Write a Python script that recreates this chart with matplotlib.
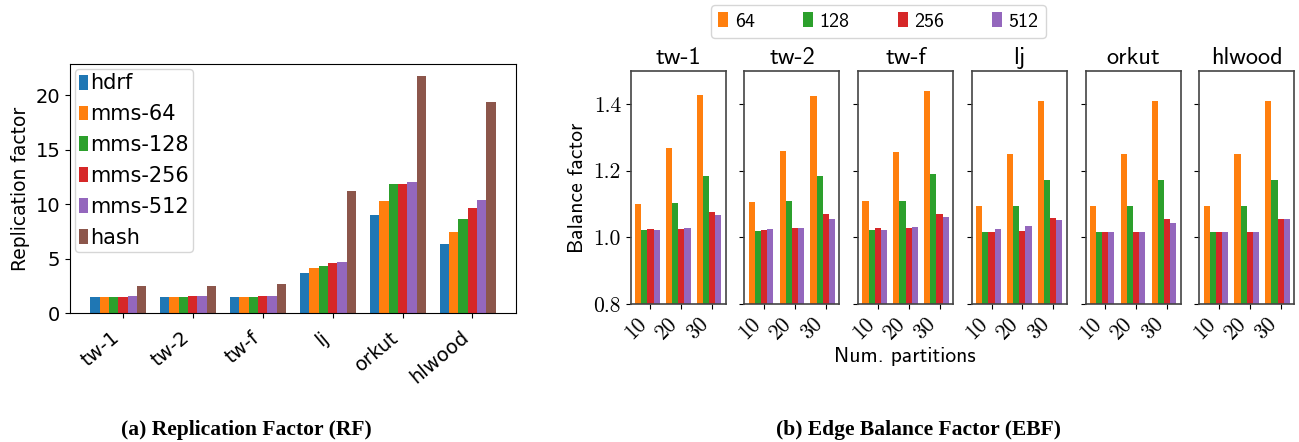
import matplotlib
matplotlib.use("Agg")
import matplotlib.pyplot as plt
import numpy as np

# ---------------- data ----------------
rf_datasets = ["tw-1", "tw-2", "tw-f", "lj", "orkut", "hlwood"]
rf_series = ["hdrf", "mms-64", "mms-128", "mms-256", "mms-512", "hash"]
rf_hdrf = [1.5, 1.5, 1.5, 3.72, 8.98, 6.4]
rf_mms64 = [1.5, 1.5, 1.5, 4.18, 10.28, 7.42]
rf_mms128 = [1.5, 1.5, 1.5, 4.37, 11.85, 8.62]
rf_mms256 = [1.5, 1.6, 1.6, 4.65, 11.85, 9.63]
rf_mms512 = [1.6, 1.6, 1.6, 4.74, 12.03, 10.37]
rf_hash = [2.5, 2.5, 2.7, 11.2, 21.8, 19.4]

ebf_partitions = ["10", "20", "30"]
ebf_series = ["64", "128", "256", "512"]
# per dataset: rows = series (64,128,256,512), cols = partitions (10,20,30)
ebf_tw1 = [[1.100, 1.268, 1.427], [1.022, 1.103, 1.184], [1.025, 1.025, 1.076], [1.022, 1.028, 1.067]]
ebf_tw2 = [[1.106, 1.259, 1.424], [1.019, 1.109, 1.184], [1.022, 1.028, 1.070], [1.025, 1.028, 1.055]]
ebf_twf = [[1.109, 1.256, 1.439], [1.022, 1.109, 1.190], [1.028, 1.028, 1.070], [1.022, 1.031, 1.061]]
ebf_lj = [[1.094, 1.250, 1.409], [1.016, 1.094, 1.172], [1.016, 1.019, 1.058], [1.025, 1.034, 1.052]]
ebf_orkut = [[1.094, 1.250, 1.409], [1.016, 1.094, 1.172], [1.016, 1.016, 1.055], [1.016, 1.016, 1.043]]
ebf_hlwood = [[1.094, 1.250, 1.409], [1.016, 1.094, 1.172], [1.016, 1.016, 1.055], [1.016, 1.016, 1.055]]
ebf_all = [ebf_tw1, ebf_tw2, ebf_twf, ebf_lj, ebf_orkut, ebf_hlwood]

tab = plt.get_cmap("tab10").colors

W, H = 1299, 442
fig = plt.figure(figsize=(W / 100, H / 100), dpi=100)

def rect(x0, y0, x1, y1):
    return [x0 / W, 1 - y1 / H, (x1 - x0) / W, (y1 - y0) / H]

# ---------------- left chart ----------------
ax = fig.add_axes(rect(70, 64, 516, 313.3))
rf_values = [rf_hdrf, rf_mms64, rf_mms128, rf_mms256, rf_mms512, rf_hash]
x = np.arange(len(rf_datasets))
w = 0.8 / 6
for i, (name, vals) in enumerate(zip(rf_series, rf_values)):
    ax.bar(x + (i - 3) * w, vals, w, color=tab[i], label=name)
ax.set_xticks(x)
ax.set_xticklabels(rf_datasets, rotation=40, ha="right", fontsize=14)
ax.tick_params(axis="x", pad=7)
ax.tick_params(axis="y", labelsize=14)
ax.set_ylabel("Replication factor", fontsize=13.5)
ax.legend(loc="upper left", fontsize=15, handlelength=0.42, handleheight=0.72,
          handletextpad=0.1, borderpad=0.2, borderaxespad=0.25, labelspacing=0.52)

# ---------------- right chart ----------------
lefts = [630.7 + i * 113.7 for i in range(6)]
axes = []
xp = np.arange(len(ebf_partitions))
wb = 0.2
for k, (name, data) in enumerate(zip(rf_datasets, ebf_all)):
    a = fig.add_axes(rect(lefts[k], 70.7, lefts[k] + 95, 304), sharey=axes[0] if axes else None)
    for i, s in enumerate(ebf_series):
        a.bar(xp + (i - 2) * wb, data[i], wb, color=tab[i + 1], label=s)
    a.set_ylim(0.8, 1.5)
    a.set_yticks([0.8, 1.0, 1.2, 1.4])
    a.set_xticks(xp)
    a.set_xticklabels(ebf_partitions, rotation=45, ha="right",
                      fontsize=15.5, family="cmr10")
    a.set_title(name, fontsize=17.5, family="cmss10", pad=5)
    for sp in a.spines.values():
        sp.set_color("#444444")
        sp.set_linewidth(1.2)
    if k == 0:
        a.set_yticklabels(["0.8", "1.0", "1.2", "1.4"], family="cmr10", fontsize=15.5)
        a.set_ylabel("Balance factor", family="cmss10", fontsize=15.5, labelpad=5)
    else:
        a.tick_params(axis="y", labelleft=False)
    axes.append(a)

handles, labels = axes[0].get_legend_handles_labels()
fig.legend(handles, labels, loc="center", bbox_to_anchor=(878.5 / W, 1 - 21.5 / H), ncol=4,
           prop={"family": "cmss10", "size": 14.4}, handlelength=0.5, handleheight=0.75,
           handletextpad=0.33, columnspacing=2.4, borderpad=0.37)

fig.text(905 / W, 1 - 356 / H, "Num. partitions", ha="center", va="center",
         family="cmss10", fontsize=15.5)

# ---------------- captions ----------------
fig.text(246 / W, 1 - 430 / H, "(a) Replication Factor (RF)", ha="center", va="center",
         family="Liberation Serif", fontweight="bold", fontsize=15.5)
fig.text(918 / W, 1 - 430 / H, "(b) Edge Balance Factor (EBF)", ha="center", va="center",
         family="Liberation Serif", fontweight="bold", fontsize=15.5)

fig.savefig("out.png", dpi=100)
